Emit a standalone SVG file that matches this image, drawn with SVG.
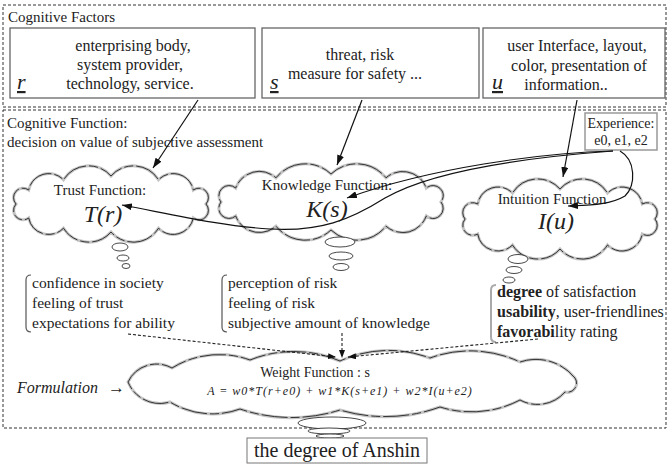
<svg xmlns="http://www.w3.org/2000/svg" xmlns:xlink="http://www.w3.org/1999/xlink" width="669" height="465" viewBox="0 0 669 465">
<style>
.t{font-family:"Liberation Serif","Times New Roman",serif;fill:#222}
.c{text-anchor:middle}
.i{font-style:italic}
.dash{fill:none;stroke:#333;stroke-width:1;stroke-dasharray:3 2}
.box{fill:#fff;stroke:#666;stroke-width:1.3}
.shade{fill:#fff;stroke:#c4c4c4;stroke-width:3}
.cloud{fill:none;stroke:#222;stroke-width:0.9;stroke-dasharray:26 3 9 3}
.bub{fill:#fff;stroke:#333;stroke-width:0.9}
.conn{fill:none;stroke:#111;stroke-width:1.2}
.dconn{fill:none;stroke:#222;stroke-width:1.1;stroke-dasharray:3 2}
.brk{fill:none;stroke:#555;stroke-width:1.2}
</style>
<defs>
<marker id="ah" markerUnits="userSpaceOnUse" markerWidth="10" markerHeight="7" refX="10" refY="3.5" orient="auto"><path d="M0,0 L10,3.5 L0,7 z" fill="#111"/></marker>
<marker id="ahd" markerUnits="userSpaceOnUse" markerWidth="8" markerHeight="6" refX="8" refY="3" orient="auto"><path d="M0,0 L8,3 L0,6 z" fill="#111"/></marker>
<path id="cT" d="M206,204 A9.5,9.5 0 0 1 193.3,218 A20.5,20.5 0 0 1 158.5,228.2 A29.7,29.7 0 0 1 111,232 A29.7,29.7 0 0 1 63.5,228.2 A20.5,20.5 0 0 1 28.7,218 A9.5,9.5 0 0 1 16,204 A9.5,9.5 0 0 1 28.7,190 A20.5,20.5 0 0 1 63.5,179.8 A29.7,29.7 0 0 1 111,176 A29.7,29.7 0 0 1 158.5,179.8 A20.5,20.5 0 0 1 193.3,190 A9.5,9.5 0 0 1 206,204 Z"/>
<path id="cK" d="M441,202 A10.2,10.2 0 0 1 426.3,216 A25.2,25.2 0 0 1 386,226.2 A37.6,37.6 0 0 1 331,230 A37.6,37.6 0 0 1 276,226.2 A25.2,25.2 0 0 1 235.7,216 A10.2,10.2 0 0 1 221,202 A10.2,10.2 0 0 1 235.7,188 A25.2,25.2 0 0 1 276,177.8 A37.6,37.6 0 0 1 331,174 A37.6,37.6 0 0 1 386,177.8 A25.2,25.2 0 0 1 426.3,188 A10.2,10.2 0 0 1 441,202 Z"/>
<path id="cI" d="M655,219 A10,10 0 0 1 642.3,234 A20.6,20.6 0 0 1 607.5,245 A29.7,29.7 0 0 1 560,249 A29.7,29.7 0 0 1 512.5,245 A20.6,20.6 0 0 1 477.7,234 A10,10 0 0 1 465,219 A10,10 0 0 1 477.7,204 A20.6,20.6 0 0 1 512.5,193 A29.7,29.7 0 0 1 560,189 A29.7,29.7 0 0 1 607.5,193 A20.6,20.6 0 0 1 642.3,204 A10,10 0 0 1 655,219 Z"/>
<path id="cW" d="M128,382 A31.7,31.7 0 0 1 172,368 A89.9,89.9 0 0 1 250,360 A117,117 0 0 1 340,361 A117,117 0 0 1 430,358 A117,117 0 0 1 520,362 A50.1,50.1 0 0 1 575,378 A9.2,9.2 0 0 1 565,392 A36.6,36.6 0 0 1 520,400 A104.8,104.8 0 0 1 440,407 A160,160 0 0 1 340,410 A160,160 0 0 1 240,409 A81,81 0 0 1 170,402 A34.6,34.6 0 0 1 128,382 Z"/>
</defs>
<rect width="669" height="465" fill="#fff"/>

<g id="cognitive-factors">
<rect class="dash" x="3" y="5" width="663" height="102"/>
<text class="t" x="8" y="22" font-size="15">Cognitive Factors</text>
</g>
<g id="factor-r">
<rect class="box" x="10" y="28" width="245" height="70"/>
<text class="t c" x="133" y="51" font-size="16">enterprising body,</text>
<text class="t c" x="130" y="70" font-size="16">system provider,</text>
<text class="t c" x="130" y="89" font-size="16">technology, service.</text>
<text class="t i" x="17" y="89" font-size="22" fill="#334" text-decoration="underline">r</text>
</g>
<g id="factor-s">
<rect class="box" x="262" y="28" width="217" height="70"/>
<text class="t c" x="360" y="60" font-size="16">threat, risk</text>
<text class="t c" x="355" y="79" font-size="16">measure for safety ...</text>
<text class="t i" x="270" y="89" font-size="22" fill="#334" text-decoration="underline">s</text>
</g>
<g id="factor-u">
<rect class="box" x="483" y="28" width="182" height="70"/>
<text class="t c" x="577" y="51" font-size="16">user Interface, layout,</text>
<text class="t c" x="579" y="71" font-size="16">color, presentation of</text>
<text class="t c" x="566" y="90" font-size="16">information..</text>
<text class="t i" x="492" y="89" font-size="22" fill="#334" text-decoration="underline">u</text>
</g>

<g id="cognitive-function">
<rect class="dash" x="3" y="110" width="663" height="318"/>
<text class="t" x="7" y="128" font-size="15">Cognitive Function:</text>
<text class="t" x="7" y="147" font-size="15">decision on value of subjective assessment</text>
</g>
<g id="experience">
<rect x="585" y="113" width="72" height="37" fill="#fff" stroke="#999" stroke-width="1.5"/>
<text class="t c" x="621" y="128" font-size="14">Experience:</text>
<text class="t c" x="621" y="145" font-size="14">e0, e1, e2</text>
</g>

<g id="trust-function">
<use xlink:href="#cT" class="shade"/>
<use xlink:href="#cT" class="cloud"/>
<text class="t c" x="100" y="195" font-size="15" fill="#333">Trust Function:</text>
<text class="t c i" x="103" y="222" font-size="24">T(r)</text>
<ellipse class="bub" cx="120" cy="247" rx="8" ry="4"/>
<ellipse class="bub" cx="123" cy="258" rx="6" ry="3"/>
<ellipse class="bub" cx="126" cy="266" rx="4" ry="2.5"/>
</g>
<g id="knowledge-function">
<use xlink:href="#cK" class="shade"/>
<use xlink:href="#cK" class="cloud"/>
<text class="t c" x="327" y="190" font-size="15" fill="#333">Knowledge Function:</text>
<text class="t c i" x="327" y="217" font-size="24">K(s)</text>
<ellipse class="bub" cx="340" cy="242" rx="15" ry="5"/>
<ellipse class="bub" cx="341" cy="256" rx="12" ry="4"/>
<ellipse class="bub" cx="341" cy="267" rx="8" ry="3.5"/>
</g>
<g id="intuition-function">
<use xlink:href="#cI" class="shade"/>
<use xlink:href="#cI" class="cloud"/>
<text class="t c" x="552" y="204" font-size="15" fill="#333">Intuition Function</text>
<text class="t c i" x="556" y="229" font-size="24">I(u)</text>
<ellipse class="bub" cx="518" cy="259" rx="10" ry="4.5"/>
<ellipse class="bub" cx="514" cy="270" rx="8" ry="3.5"/>
<ellipse class="bub" cx="509" cy="280" rx="6" ry="3"/>
</g>

<g id="trust-items">
<path class="brk" d="M31,275 Q26,275 26,280 L26,327 Q26,332 31,332"/>
<text class="t" x="32" y="288" font-size="15.5">confidence in society</text>
<text class="t" x="32" y="308" font-size="15.5">feeling of trust</text>
<text class="t" x="32" y="328" font-size="15.5">expectations for ability</text>
</g>
<g id="knowledge-items">
<path class="brk" d="M227,275 Q222,275 222,280 L222,327 Q222,332 227,332"/>
<text class="t" x="228" y="288" font-size="15.5">perception of risk</text>
<text class="t" x="228" y="308" font-size="15.5">feeling of risk</text>
<text class="t" x="228" y="328" font-size="15.5">subjective amount of knowledge</text>
</g>
<g id="intuition-items">
<path d="M496,285 Q491,285 491,290 L491,337 Q491,342 496,342" fill="none" stroke="#aaa" stroke-width="2"/>
<text class="t" x="497" y="297" font-size="16"><tspan font-weight="bold">degree</tspan> of satisfaction</text>
<text class="t" x="497" y="317" font-size="16"><tspan font-weight="bold">usability</tspan>, user-friendlines</text>
<text class="t" x="497" y="337" font-size="16"><tspan font-weight="bold">favorabi</tspan>lity rating</text>
</g>

<g id="weight-function">
<use xlink:href="#cW" class="shade"/>
<use xlink:href="#cW" class="cloud"/>
<text class="t c" x="315" y="377" font-size="14" fill="#555">Weight Function : s</text>
<text class="t c i" x="340" y="395" font-size="12" letter-spacing="1" fill="#888">A = w0*T(r+e0) + w1*K(s+e1) + w2*I(u+e2)</text>
<ellipse class="bub" cx="332" cy="423" rx="34" ry="6"/>
<ellipse class="bub" cx="329" cy="431" rx="21" ry="3"/>
<ellipse class="bub" cx="330" cy="436" rx="14" ry="2"/>
</g>
<g id="formulation">
<text class="t i" x="17" y="393" font-size="16">Formulation <tspan x="108" font-style="normal" font-size="17">→</tspan></text>
</g>
<g id="anshin">
<rect x="247" y="438" width="180" height="25" fill="#fff" stroke="#777" stroke-width="1"/>
<text class="t c" x="337" y="457" font-size="20">the degree of Anshin</text>
</g>

<g id="connectors">
<path class="conn" d="M198,100 L153,168" marker-end="url(#ah)"/>
<path class="conn" d="M362,100 L337,165" marker-end="url(#ah)"/>
<path class="conn" d="M577,100 L563,177" marker-end="url(#ah)"/>
<path class="conn" d="M613,151 C540,153 430,168 347,198" marker-end="url(#ah)"/>
<path class="conn" d="M613,151 C520,158 430,172 385,198 C350,220 320,232 270,229 C220,226 170,214 122,205" marker-end="url(#ah)"/>
<path class="conn" d="M620,151 C636,160 636,185 625,196 C610,205 590,205 568,206" marker-end="url(#ah)"/>
<path class="dconn" d="M128,334 L336,357" marker-end="url(#ahd)"/>
<path class="dconn" d="M342,333 L342,358" marker-end="url(#ahd)"/>
<path class="dconn" d="M538,339 L348,357" marker-end="url(#ahd)"/>
</g>
</svg>
